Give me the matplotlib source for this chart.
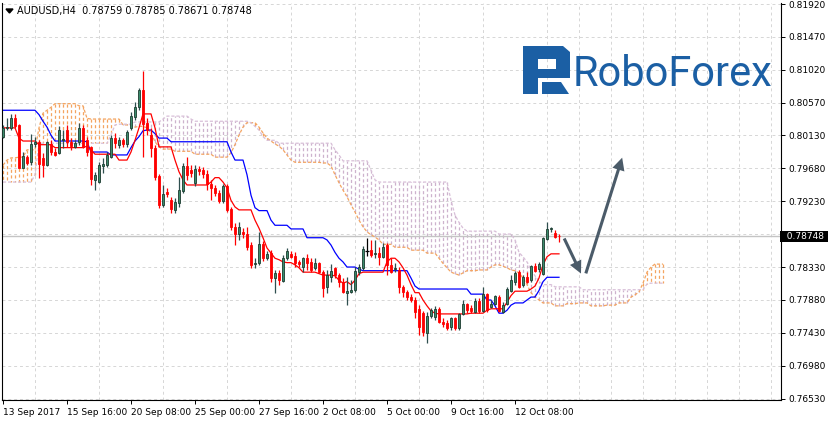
import numpy as np
import matplotlib.pyplot as plt
from matplotlib.patches import Rectangle, Polygon, FancyArrowPatch
from matplotlib.transforms import blended_transform_factory

W, H = 829, 424

# AUDUSD H4 candles, one per bar
open_ = [
    0.80109, 0.80223, 0.80223, 0.80359, 0.80268, 0.79686, 0.79836, 0.79758, 0.80004, 0.80031,
    0.79813, 0.79722, 0.80013, 0.79895, 0.79881, 0.80059, 0.80200, 0.80031, 0.79963, 0.80031,
    0.80223, 0.80063, 0.79972, 0.79517, 0.79495, 0.79713, 0.79722, 0.79836, 0.80095, 0.79995,
    0.80063, 0.80004, 0.80232, 0.80373, 0.80509, 0.80746, 0.80296, 0.80132, 0.79955, 0.79573,
    0.79177, 0.79354, 0.79245, 0.79108, 0.79204, 0.79368, 0.79709, 0.79654, 0.79477, 0.79668,
    0.79654, 0.79600, 0.79463, 0.79409, 0.79340, 0.79231, 0.79436, 0.79122, 0.78876, 0.78781,
    0.78808, 0.78781, 0.78631, 0.78371, 0.78385, 0.78644, 0.78453, 0.78522, 0.78180, 0.78248,
    0.78139, 0.78453, 0.78508, 0.78481, 0.78399, 0.78330, 0.78453, 0.78399, 0.78317, 0.78385,
    0.78262, 0.78057, 0.78194, 0.78317, 0.78221, 0.78126, 0.77975, 0.77989, 0.78016, 0.78262,
    0.78317, 0.78549, 0.78562, 0.78508, 0.78522, 0.78467, 0.78631, 0.78358, 0.78303, 0.78289,
    0.78057, 0.77989, 0.77921, 0.77880, 0.77757, 0.77702, 0.77429, 0.77662, 0.77648, 0.77757,
    0.77580, 0.77566, 0.77511, 0.77634, 0.77498, 0.77689, 0.77825, 0.77771, 0.77716, 0.77866,
    0.77730, 0.77962, 0.77784, 0.77825, 0.77921, 0.77716, 0.77825, 0.78003, 0.78126, 0.78262,
    0.78085, 0.78194, 0.78153, 0.78344, 0.78303, 0.78235, 0.78713, 0.78849, 0.78795, 0.78759,
]
high = [
    0.80268, 0.80359, 0.80414, 0.80414, 0.80277, 0.79904, 0.79859, 0.80141, 0.80109, 0.80063,
    0.79881, 0.80050, 0.80063, 0.79950, 0.80259, 0.80200, 0.80268, 0.80086, 0.80063, 0.80291,
    0.80268, 0.80109, 0.79981, 0.79631, 0.79768, 0.79822, 0.79904, 0.80132, 0.80154, 0.80109,
    0.80086, 0.80200, 0.80450, 0.80587, 0.80778, 0.81000, 0.80364, 0.80228, 0.79996, 0.79600,
    0.79450, 0.79409, 0.79286, 0.79272, 0.79559, 0.79750, 0.79832, 0.79723, 0.79723, 0.79709,
    0.79695, 0.79654, 0.79518, 0.79450, 0.79381, 0.79463, 0.79463, 0.79150, 0.78931, 0.78945,
    0.78863, 0.78876, 0.78672, 0.78453, 0.78808, 0.78685, 0.78549, 0.78562, 0.78289, 0.78289,
    0.78494, 0.78590, 0.78549, 0.78535, 0.78426, 0.78467, 0.78508, 0.78453, 0.78453, 0.78399,
    0.78289, 0.78289, 0.78371, 0.78330, 0.78248, 0.78180, 0.78194, 0.78153, 0.78330, 0.78371,
    0.78617, 0.78726, 0.78699, 0.78699, 0.78604, 0.78658, 0.78658, 0.78453, 0.78385, 0.78330,
    0.78085, 0.78016, 0.77962, 0.77921, 0.77812, 0.77730, 0.77716, 0.77771, 0.77798, 0.77784,
    0.77634, 0.77607, 0.77648, 0.77648, 0.77702, 0.77880, 0.77839, 0.77812, 0.77907, 0.77907,
    0.78057, 0.77975, 0.77880, 0.77948, 0.77948, 0.77853, 0.78057, 0.78221, 0.78276, 0.78289,
    0.78221, 0.78262, 0.78358, 0.78385, 0.78399, 0.78740, 0.78945, 0.78876, 0.78835, 0.78785,
]
low = [
    0.80086, 0.80200, 0.80200, 0.80223, 0.79677, 0.79677, 0.79722, 0.79722, 0.79972, 0.79540,
    0.79563, 0.79713, 0.79859, 0.79840, 0.79868, 0.79950, 0.79972, 0.79927, 0.79950, 0.79995,
    0.79950, 0.79849, 0.79449, 0.79381, 0.79472, 0.79609, 0.79699, 0.79813, 0.79950, 0.79950,
    0.79972, 0.79972, 0.80200, 0.80336, 0.80473, 0.79836, 0.80132, 0.79832, 0.79518, 0.79136,
    0.79150, 0.79286, 0.79068, 0.79068, 0.79150, 0.79340, 0.79518, 0.79559, 0.79436, 0.79586,
    0.79545, 0.79381, 0.79245, 0.79299, 0.79204, 0.79204, 0.79081, 0.78835, 0.78631, 0.78699,
    0.78726, 0.78562, 0.78317, 0.78317, 0.78358, 0.78412, 0.78426, 0.78126, 0.77975, 0.78085,
    0.78126, 0.78426, 0.78453, 0.78330, 0.78330, 0.78262, 0.78289, 0.78262, 0.78289, 0.78248,
    0.77921, 0.77975, 0.78126, 0.78180, 0.78057, 0.77975, 0.77812, 0.77975, 0.77989, 0.78221,
    0.78289, 0.78481, 0.78467, 0.78453, 0.78358, 0.78453, 0.78221, 0.78248, 0.78262, 0.77975,
    0.77921, 0.77880, 0.77853, 0.77634, 0.77402, 0.77389, 0.77293, 0.77634, 0.77607, 0.77566,
    0.77511, 0.77470, 0.77470, 0.77470, 0.77470, 0.77675, 0.77702, 0.77702, 0.77702, 0.77702,
    0.77716, 0.77716, 0.77771, 0.77812, 0.77716, 0.77702, 0.77812, 0.77989, 0.78085, 0.78044,
    0.78057, 0.78112, 0.78126, 0.78262, 0.78262, 0.78221, 0.78699, 0.78808, 0.78726, 0.78671,
]
close = [
    0.80223, 0.80236, 0.80359, 0.80254, 0.79686, 0.79849, 0.79745, 0.80004, 0.80041, 0.79731,
    0.79722, 0.80031, 0.79895, 0.79859, 0.80204, 0.80082, 0.80031, 0.79986, 0.80018, 0.80223,
    0.79972, 0.79895, 0.79526, 0.79586, 0.79722, 0.79736, 0.79859, 0.80086, 0.80027, 0.80059,
    0.80009, 0.80168, 0.80391, 0.80509, 0.80746, 0.80277, 0.80200, 0.79955, 0.79559, 0.79177,
    0.79327, 0.79327, 0.79122, 0.79218, 0.79381, 0.79709, 0.79586, 0.79613, 0.79668, 0.79641,
    0.79600, 0.79463, 0.79409, 0.79340, 0.79231, 0.79436, 0.79108, 0.78876, 0.78781, 0.78876,
    0.78781, 0.78604, 0.78358, 0.78385, 0.78644, 0.78453, 0.78508, 0.78180, 0.78248, 0.78153,
    0.78453, 0.78549, 0.78467, 0.78385, 0.78371, 0.78453, 0.78385, 0.78289, 0.78385, 0.78262,
    0.78044, 0.78221, 0.78276, 0.78221, 0.78126, 0.77989, 0.78003, 0.78016, 0.78276, 0.78330,
    0.78576, 0.78549, 0.78494, 0.78522, 0.78467, 0.78604, 0.78358, 0.78262, 0.78317, 0.78057,
    0.77989, 0.77921, 0.77880, 0.77716, 0.77511, 0.77443, 0.77662, 0.77743, 0.77757, 0.77580,
    0.77552, 0.77498, 0.77634, 0.77498, 0.77689, 0.77825, 0.77743, 0.77730, 0.77866, 0.77730,
    0.77962, 0.77743, 0.77825, 0.77935, 0.77730, 0.77812, 0.78030, 0.78153, 0.78248, 0.78057,
    0.78194, 0.78126, 0.78344, 0.78276, 0.78371, 0.78726, 0.78849, 0.78863, 0.78740, 0.78748,
]

# Ichimoku lines as drawn on the chart
tenkan = [
    0.8023, 0.8023, 0.8023, 0.8023, 0.8009, 0.8005, 0.8005, 0.8005, 0.8005, 0.8000,
    0.8000, 0.8000, 0.8000, 0.7996, 0.7996, 0.7996, 0.7996, 0.7996, 0.7996, 0.7996,
    0.7996, 0.7998, 0.7993, 0.7987, 0.7987, 0.7987, 0.7987, 0.7987, 0.7987, 0.7979,
    0.7979, 0.7979, 0.7990, 0.8006, 0.8023, 0.8042, 0.8042, 0.8042, 0.8023, 0.7997,
    0.7997, 0.7997, 0.7997, 0.7979, 0.7963, 0.7952, 0.7945, 0.7945, 0.7945, 0.7945,
    0.7945, 0.7945, 0.7949, 0.7955, 0.7955, 0.7949, 0.7941, 0.7924, 0.7915, 0.7911,
    0.7911, 0.7911, 0.7911, 0.7897, 0.7886, 0.7873, 0.7859, 0.7852, 0.7845, 0.7843,
    0.7840, 0.7839, 0.7839, 0.7836, 0.7832, 0.7826, 0.7826, 0.7826, 0.7826, 0.7824,
    0.7822, 0.7822, 0.7822, 0.7821, 0.7815, 0.7811, 0.7813, 0.7809, 0.7815, 0.7824,
    0.7826, 0.7826, 0.7826, 0.7826, 0.7826, 0.7826, 0.7840, 0.7845, 0.7845, 0.7840,
    0.7832, 0.7822, 0.7809, 0.7798, 0.7798, 0.7788, 0.7780, 0.7773, 0.7770, 0.7769,
    0.7769, 0.7769, 0.7769, 0.7769, 0.7769, 0.7769, 0.7769, 0.7770, 0.7770, 0.7770,
    0.7770, 0.7774, 0.7776, 0.7776, 0.7776, 0.7776, 0.7785, 0.7794, 0.7800, 0.7800,
    0.7800, 0.7800, 0.7803, 0.7807, 0.7818, 0.7836, 0.7847, 0.7851, 0.7851, 0.7851,
]
kijun = [
    0.8047, 0.8047, 0.8047, 0.8047, 0.8047, 0.8047, 0.8047, 0.8047, 0.8047, 0.8041,
    0.8032, 0.8024, 0.8013, 0.8005, 0.8005, 0.8005, 0.8005, 0.8005, 0.8005, 0.8005,
    0.8005, 0.8004, 0.7990, 0.7990, 0.7990, 0.7990, 0.7990, 0.7986, 0.7986, 0.7986,
    0.7986, 0.7986, 0.7996, 0.8005, 0.8011, 0.8019, 0.8020, 0.8020, 0.8015, 0.8009,
    0.8009, 0.8009, 0.8004, 0.8004, 0.8004, 0.8004, 0.8004, 0.8004, 0.8004, 0.8004,
    0.8004, 0.8004, 0.8004, 0.8004, 0.8004, 0.8004, 0.8004, 0.7990, 0.7979, 0.7979,
    0.7979, 0.7959, 0.7931, 0.7914, 0.7910, 0.7910, 0.7910, 0.7897, 0.7890, 0.7890,
    0.7890, 0.7890, 0.7885, 0.7885, 0.7885, 0.7885, 0.7873, 0.7873, 0.7873, 0.7873,
    0.7873, 0.7870, 0.7863, 0.7853, 0.7845, 0.7840, 0.7833, 0.7833, 0.7833, 0.7830,
    0.7828, 0.7828, 0.7828, 0.7828, 0.7828, 0.7828, 0.7828, 0.7828, 0.7828, 0.7828,
    0.7828, 0.7828, 0.7818, 0.7807, 0.7803, 0.7803, 0.7803, 0.7803, 0.7803, 0.7803,
    0.7803, 0.7803, 0.7803, 0.7803, 0.7803, 0.7803, 0.7803, 0.7796, 0.7796, 0.7796,
    0.7796, 0.7788, 0.7788, 0.7780, 0.7770, 0.7770, 0.7774, 0.7781, 0.7784, 0.7784,
    0.7784, 0.7788, 0.7792, 0.7792, 0.7801, 0.7813, 0.7819, 0.7819, 0.7819, 0.7819,
]
# senkou spans run 26 bars past the last candle
span_a = [
    0.7972, 0.7979, 0.7982, 0.7982, 0.7983, 0.7983, 0.7993, 0.7993, 0.7993, 0.8023,
    0.8043, 0.8047, 0.8051, 0.8056, 0.8056, 0.8056, 0.8056, 0.8056, 0.8056, 0.8053,
    0.8053, 0.8036, 0.8035, 0.8035, 0.8035, 0.8035, 0.8035, 0.8035, 0.8035, 0.8035,
    0.8027, 0.8027, 0.8027, 0.8024, 0.8025, 0.8025, 0.8023, 0.8016, 0.8004, 0.7997,
    0.7994, 0.7994, 0.7994, 0.7991, 0.7991, 0.7991, 0.7991, 0.7991, 0.7987, 0.7987,
    0.7987, 0.7987, 0.7987, 0.7983, 0.7983, 0.7983, 0.7983, 0.7989, 0.8000, 0.8013,
    0.8024, 0.8030, 0.8030, 0.8030, 0.8024, 0.8016, 0.8009, 0.8005, 0.8001, 0.7998,
    0.7993, 0.7986, 0.7979, 0.7976, 0.7976, 0.7976, 0.7976, 0.7976, 0.7976, 0.7976,
    0.7975, 0.7975, 0.7971, 0.7959, 0.7948, 0.7938, 0.7929, 0.7918, 0.7908, 0.7897,
    0.7888, 0.7881, 0.7877, 0.7874, 0.7870, 0.7864, 0.7864, 0.7864, 0.7860, 0.7860,
    0.7860, 0.7860, 0.7856, 0.7856, 0.7856, 0.7856, 0.7852, 0.7852, 0.7852, 0.7845,
    0.7838, 0.7832, 0.7826, 0.7824, 0.7822, 0.7825, 0.7828, 0.7828, 0.7828, 0.7829,
    0.7829, 0.7829, 0.7833, 0.7836, 0.7836, 0.7834, 0.7832, 0.7829, 0.7828, 0.7825,
    0.7818, 0.7809, 0.7798, 0.7792, 0.7788, 0.7784, 0.7784, 0.7784, 0.7780, 0.7780,
    0.7780, 0.7783, 0.7783, 0.7783, 0.7784, 0.7784, 0.7784, 0.7780, 0.7780, 0.7780,
    0.7780, 0.7781, 0.7781, 0.7781, 0.7784, 0.7784, 0.7784, 0.7792, 0.7795, 0.7799,
    0.7811, 0.7826, 0.7833, 0.7837, 0.7837, 0.7837,
]
span_b = [
    0.7949, 0.7949, 0.7949, 0.7949, 0.7949, 0.7949, 0.7949, 0.7949, 0.7959, 0.8002,
    0.8002, 0.8002, 0.8002, 0.8002, 0.8002, 0.8002, 0.8002, 0.8002, 0.8002, 0.8002,
    0.8002, 0.8002, 0.8002, 0.8002, 0.8002, 0.8002, 0.8002, 0.8013, 0.8027, 0.8028,
    0.8028, 0.8028, 0.8028, 0.8031, 0.8031, 0.8031, 0.8031, 0.8031, 0.8031, 0.8031,
    0.8035, 0.8039, 0.8039, 0.8039, 0.8039, 0.8039, 0.8039, 0.8035, 0.8032, 0.8032,
    0.8032, 0.8032, 0.8032, 0.8032, 0.8032, 0.8032, 0.8032, 0.8032, 0.8032, 0.8032,
    0.8032, 0.8032, 0.8030, 0.8025, 0.8020, 0.8011, 0.8006, 0.8006, 0.8006, 0.8002,
    0.8002, 0.8002, 0.8002, 0.8002, 0.8002, 0.8002, 0.8002, 0.8002, 0.8002, 0.8002,
    0.8002, 0.8002, 0.8002, 0.7993, 0.7986, 0.7978, 0.7978, 0.7978, 0.7978, 0.7978,
    0.7978, 0.7978, 0.7965, 0.7952, 0.7949, 0.7949, 0.7949, 0.7949, 0.7949, 0.7949,
    0.7949, 0.7949, 0.7949, 0.7949, 0.7949, 0.7949, 0.7949, 0.7949, 0.7949, 0.7949,
    0.7949, 0.7949, 0.7924, 0.7904, 0.7894, 0.7886, 0.7882, 0.7882, 0.7882, 0.7882,
    0.7882, 0.7882, 0.7882, 0.7882, 0.7878, 0.7878, 0.7878, 0.7878, 0.7870, 0.7853,
    0.7847, 0.7840, 0.7829, 0.7821, 0.7814, 0.7809, 0.7809, 0.7809, 0.7806, 0.7806,
    0.7806, 0.7806, 0.7806, 0.7806, 0.7806, 0.7802, 0.7802, 0.7802, 0.7802, 0.7802,
    0.7802, 0.7802, 0.7802, 0.7802, 0.7802, 0.7802, 0.7802, 0.7802, 0.7802, 0.7802,
    0.7802, 0.7810, 0.7811, 0.7811, 0.7811, 0.7811,
]

date_labels = ["13 Sep 2017", "15 Sep 16:00", "20 Sep 08:00", "25 Sep 00:00",
               "27 Sep 16:00", "2 Oct 08:00", "5 Oct 00:00", "9 Oct 16:00", "12 Oct 08:00"]
date_bars = [0, 16, 32, 48, 64, 80, 96, 112, 128]
price_ticks = [0.81920, 0.81470, 0.81020, 0.80570, 0.80130, 0.79680, 0.79230,
               0.78780, 0.78330, 0.77880, 0.77430, 0.76980, 0.76530]
price_labels = ["0.81920", "0.81470", "0.81020", "0.80570", "0.80130", "0.79680", "0.79230",
                "", "0.78330", "0.77880", "0.77430", "0.76980", "0.76530"]
last_price = 0.78748
header = "AUDUSD,H4  0.78759 0.78785 0.78671 0.78748"

# hand-drawn forecast arrows (bar, price)
arrow_down = [(140.0, 0.78754), (144.8, 0.78207)]
arrow_up = [(145.5, 0.78207), (155.0, 0.79859)]

BULL = "#3b8b6b"
BULL_EDGE = "#1d3b30"
ARROW = "#4b5b69"
SANDY = "#F4A460"
THISTLE = "#D8BFD8"
THISTLE_HATCH = "#cdb2cd"
LOGO = "#1b5fa4"

plt.rcParams["font.family"] = "DejaVu Sans"

fig = plt.figure(figsize=(W / 100, H / 100), dpi=100)
ax = fig.add_axes([2 / W, 24 / H, 779 / W, 397 / H])

o = np.array(open_)
h = np.array(high)
l = np.array(low)
c = np.array(close)
x = np.arange(len(c))
xs = np.arange(len(span_a))
sa = np.array(span_a)
sb = np.array(span_b)

# cloud hatching: one dotted vertical per bar between the spans
hatch_cols = np.where(sa > sb, SANDY, THISTLE_HATCH)
ax.vlines(xs, sa, sb, colors=hatch_cols, lw=0.9, linestyles=(0, (2.5, 2)), zorder=1)
ax.plot(xs, sa, color=SANDY, lw=0.9, ls=(0, (2.5, 1.5)), zorder=1.5)
ax.plot(xs, sb, color=THISTLE, lw=0.9, ls=(0, (2.5, 1.5)), zorder=1.5)

ax.axhline(last_price, color="#c4c4c4", lw=1.0, zorder=1.2)

ax.plot(x, kijun, color="blue", lw=0.9, zorder=2)
ax.plot(x, tenkan, color="red", lw=0.9, zorder=2)

# candles
up = c > o
dn = c < o
flat = c == o
wick_cols = np.where(up, "#2f4f4f", np.where(dn, "red", "black"))
ax.vlines(x, l, h, colors=wick_cols, lw=0.9, zorder=3)
body = np.maximum(np.abs(c - o), 0.00005)
bottom = np.minimum(o, c)
ax.bar(x[up], body[up], bottom=bottom[up], width=0.72, color=BULL,
       edgecolor=BULL_EDGE, lw=0.6, zorder=4)
ax.bar(x[dn], body[dn], bottom=bottom[dn], width=0.72, color="red",
       edgecolor="red", lw=0.6, zorder=4)
ax.hlines(c[flat], x[flat] - 0.4, x[flat] + 0.4, color="black", lw=0.9, zorder=4)

for (x0, y0), (x1, y1) in [arrow_down, arrow_up]:
    ax.add_patch(FancyArrowPatch((x0, y0), (x1, y1),
                                 arrowstyle="simple,head_length=0.9,head_width=0.9,tail_width=0.22",
                                 mutation_scale=10, color=ARROW, lw=0, zorder=6))

ax.set_xlim(-0.25, 194.5)
ax.set_ylim(0.76515, 0.81934)

ax.yaxis.tick_right()
ax.set_yticks(price_ticks)
ax.set_yticklabels(price_labels)
ax.set_xticks(date_bars)
ax.set_xticklabels(date_labels)
for lbl in ax.get_xticklabels():
    lbl.set_ha("left")
ax.set_xticks(np.arange(8, 195, 8), minor=True)
ax.tick_params(axis="y", length=3, width=0.7, pad=2.5, labelsize=6.5)
ax.tick_params(axis="x", which="major", length=3, width=0.7, pad=2.5, labelsize=6.5)
ax.tick_params(axis="x", which="minor", length=0)
ax.grid(axis="y", ls=(0, (3, 3)), color="#d6d6d6", lw=0.7)
ax.grid(axis="x", which="minor", ls=(0, (3, 3)), color="#d6d6d6", lw=0.7)
ax.set_axisbelow(True)
ax.spines["top"].set_visible(False)
for s in ("left", "right", "bottom"):
    ax.spines[s].set_linewidth(0.8)

trans = blended_transform_factory(ax.transAxes, ax.transData)
ax.text(1.0, last_price, "  0.78748 ", transform=trans, ha="left", va="center",
        fontsize=6.5, color="white", zorder=10,
        bbox=dict(boxstyle="square,pad=0.15", fc="black", ec="none"))

# overlay in pixel coordinates for the header and the logo
ov = fig.add_axes([0, 0, 1, 1])
ov.set_xlim(0, W)
ov.set_ylim(H, 0)
ov.axis("off")
ov.patch.set_alpha(0)

ov.add_patch(Polygon([(6, 9), (13, 9), (9.5, 13)], closed=True, color="black"))
ov.text(17, 11, header, fontsize=7, va="center", ha="left")

# RoboForex mark: stem, top bar, bowl and foot
ov.add_patch(Rectangle((523, 46), 15, 48, color=LOGO, lw=0))
ov.add_patch(Rectangle((523, 46), 40, 13, color=LOGO, lw=0))
ov.add_patch(Polygon([(556, 46), (563, 46), (570, 52), (570, 78), (556, 78)],
                     closed=True, color=LOGO, lw=0))
ov.add_patch(Rectangle((538, 69), 32, 9, color=LOGO, lw=0))
ov.add_patch(Polygon([(542, 82), (561, 82), (569, 94), (542, 94)], closed=True, color=LOGO, lw=0))
ov.text(573, 86, "RoboForex", fontsize=30, family="Roboto", color=LOGO,
        ha="left", va="baseline")

fig.savefig("out.png", dpi=100)
